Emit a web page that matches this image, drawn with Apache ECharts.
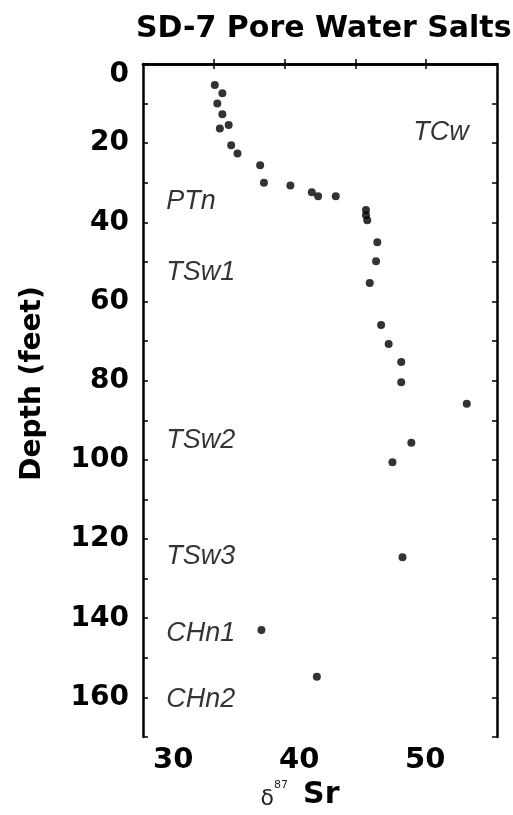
<!DOCTYPE html>
<html>
<head>
<meta charset="utf-8">
<script src="https://cdn.jsdelivr.net/npm/echarts@6/dist/echarts.min.js"></script>
<style>
  html, body { margin: 0; padding: 0; background: #fff; }
  #chart { width: 513px; height: 815px; }
</style>
</head>
<body>
<div id="chart"></div>
<script>
// Strontium isotope ratio of pore-water salts versus depth, borehole SD-7
const srValues = [33.3, 33.9, 33.5, 33.9, 33.7, 34.4, 34.6, 35.1, 36.9, 37.2,
                  39.3, 41.0, 41.5, 42.9, 45.3, 45.3, 45.4, 46.2, 46.1, 45.6,
                  46.5, 47.1, 48.1, 48.1, 53.3, 48.9, 47.4, 48.2, 37.0, 41.4];
const depthValues = [5.3, 7.4, 10.0, 12.7, 16.3, 15.4, 20.5, 22.6, 25.6, 30.0,
                     30.7, 32.4, 33.4, 33.4, 36.9, 38.2, 39.5, 45.0, 49.8, 55.3,
                     65.9, 70.7, 75.3, 80.4, 85.8, 95.7, 100.6, 124.6, 143.0, 154.8];

// Hydrogeologic unit names and the depth each is written at
const unitNames = ['TCw', 'PTn', 'TSw1', 'TSw2', 'TSw3', 'CHn1', 'CHn2'];
const unitDepths = [17.2, 34.7, 52.6, 95.1, 124.5, 143.9, 160.6];
const unitSr = [49.05, 29.45, 29.45, 29.45, 29.45, 29.45, 29.45];

// Axis ranges and tick labels
const srMin = 27.6, srMax = 55.7;
const srTickLabels = [30, 40, 50];
const depthMin = 0, depthMax = 170, depthStep = 10;
const depthTickLabels = [0, 20, 40, 60, 80, 100, 120, 140, 160];

const frameTicks = [1, 2, 3, 4].map(i => srMin + i * (srMax - srMin) / 5);
const points = srValues.map((v, i) => [v, depthValues[i]]);
const units = unitNames.map((n, i) => ({ value: [unitSr[i], unitDepths[i]], name: n }));

const frameLine = { show: true, lineStyle: { color: '#000', width: 2.5 } };
const numFont = 'DejaVu Sans';

const chart = echarts.init(document.getElementById('chart'), null, { renderer: 'canvas' });
chart.setOption({
  animation: false,
  backgroundColor: '#fff',
  title: {
    text: 'SD-7 Pore Water Salts',
    left: 131,
    top: 9,
    textStyle: { fontFamily: numFont, fontWeight: 'bold', fontSize: 30, color: '#000' }
  },
  grid: { left: 143, right: 16, top: 64, bottom: 78 },
  xAxis: [
    {
      type: 'value', position: 'bottom', min: srMin, max: srMax,
      axisLine: frameLine,
      axisTick: { show: true, inside: true, length: 5, customValues: frameTicks,
                  lineStyle: { color: '#000', width: 1.5 } },
      axisLabel: { show: true, customValues: srTickLabels, margin: 9,
                   fontFamily: numFont, fontWeight: 'bold', fontSize: 29, color: '#000' },
      splitLine: { show: false },
      name: '{d|δ}{s|87}{n|Sr}',
      nameLocation: 'middle',
      nameGap: 25,
      nameTextStyle: {
        padding: [0, 40, 0, 0],
        rich: {
          d: { fontFamily: numFont, fontSize: 22, color: '#222', verticalAlign: 'bottom' },
          s: { fontFamily: numFont, fontSize: 11, color: '#222', verticalAlign: 'top', padding: [0, 15, 0, 0] },
          n: { fontFamily: numFont, fontWeight: 'bold', fontSize: 30, color: '#000' }
        }
      }
    },
    {
      type: 'value', position: 'top', min: srMin, max: srMax,
      axisLine: frameLine,
      axisTick: { show: true, inside: true, length: 5, customValues: frameTicks,
                  lineStyle: { color: '#000', width: 1.5 } },
      axisLabel: { show: false },
      splitLine: { show: false }
    }
  ],
  yAxis: [
    {
      type: 'value', position: 'left', inverse: true,
      min: depthMin, max: depthMax, interval: depthStep,
      axisLine: frameLine,
      axisTick: { show: true, inside: true, length: 5, lineStyle: { color: '#000', width: 1.5 } },
      axisLabel: {
        show: true, margin: 14,
        fontFamily: numFont, fontWeight: 'bold', fontSize: 28, color: '#000',
        formatter: v => depthTickLabels.includes(v) ? (v === 0 ? '{z|0}' : String(v)) : '',
        rich: { z: { fontFamily: numFont, fontWeight: 'bold', fontSize: 28, color: '#000', padding: [22, 0, 0, 0] } }
      },
      splitLine: { show: false },
      name: 'Depth (feet)',
      nameLocation: 'middle',
      nameGap: 96,
      nameTextStyle: { fontFamily: numFont, fontWeight: 'bold', fontSize: 28, color: '#000',
                       padding: [0, 0, 0, 34] }
    },
    {
      type: 'value', position: 'right', inverse: true,
      min: depthMin, max: depthMax, interval: depthStep,
      axisLine: frameLine,
      axisTick: { show: true, inside: true, length: 5, lineStyle: { color: '#000', width: 1.5 } },
      axisLabel: { show: false },
      splitLine: { show: false }
    }
  ],
  series: [
    {
      type: 'scatter',
      xAxisIndex: 0, yAxisIndex: 0,
      data: points,
      symbol: 'circle',
      symbolSize: 8,
      itemStyle: { color: '#000' }
    },
    {
      type: 'scatter',
      xAxisIndex: 0, yAxisIndex: 0,
      data: units,
      symbolSize: 0,
      silent: true,
      label: {
        show: true, position: 'right', distance: 0,
        formatter: p => p.name,
        fontFamily: 'Liberation Sans', fontStyle: 'italic', fontSize: 27, color: '#000'
      }
    }
  ]
});
</script>
</body>
</html>
